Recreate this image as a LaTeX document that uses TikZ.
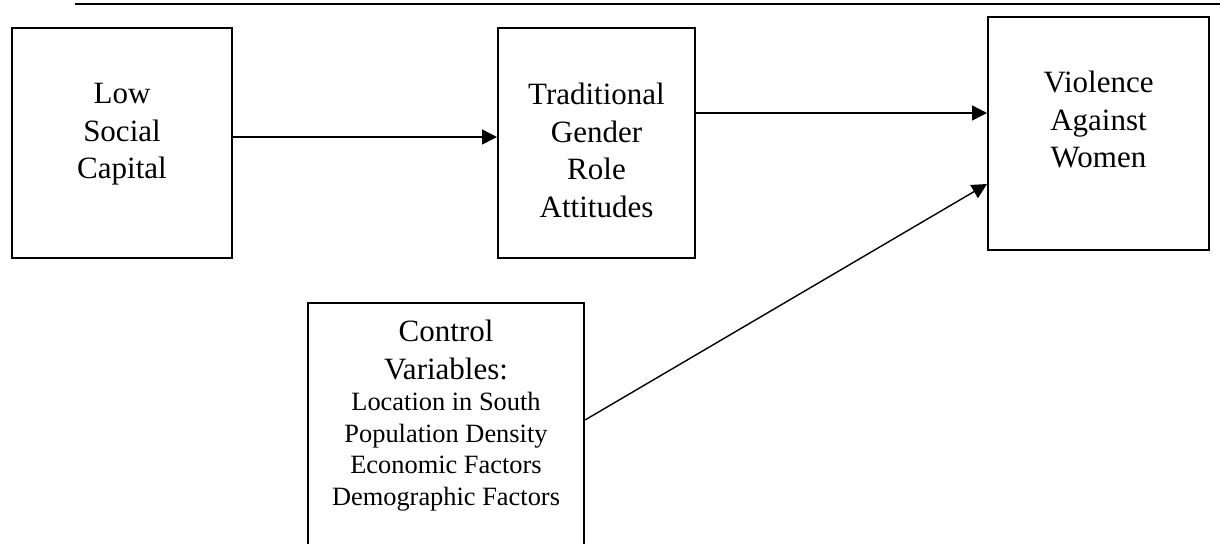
\documentclass[tikz,border=0pt]{standalone}
\usepackage{fontspec}
\setmainfont{Liberation Serif}
\usetikzlibrary{arrows.meta, positioning}
\tikzstyle{arrow} = [line width=0.7pt, -{Triangle[length=7.5pt, width=7.5pt]}]
\newcommand{\ctrlfont}{\fontsize{13.2pt}{15.8pt}\selectfont}

\begin{document}
\begin{tikzpicture}[
      box/.style={rectangle, draw=black, line width=1pt, inner sep=0pt, minimum height=115pt},
      boxtext/.style={align=center, inner sep=0pt, anchor=north, font=\fontsize{15.5pt}{18.75pt}\selectfont},
    ]
    \useasboundingbox (0,0) rectangle (610pt,-271.5pt);

    % Rule at the top
    \draw[line width=1pt] (37.5pt,-2pt) -- (610pt,-2pt);

    % Boxes
    \node[box, minimum width=110pt, anchor=north west] (low) at (5.5pt,-13.5pt) {};
    \node[box, minimum width=98.5pt, right=132pt of low] (trad) {};
    \node[box, minimum width=110.5pt, minimum height=116.5pt, right=145.5pt of trad, yshift=4.75pt] (vaw) {};
    \node[box, minimum width=138pt, minimum height=130pt, below right=21.5pt and 148pt of low.south west] (ctrl) {};

    % Texts
    \node[boxtext, below=28pt of low.north] (lowtxt) {Low\\Social\\Capital};
    \node[boxtext, below=28pt of trad.north] (tradtxt) {Traditional\\Gender\\Role\\Attitudes};
    \node[boxtext, below=27.5pt of vaw.north] (vawtxt) {Violence\\Against\\Women};
    \node[boxtext, below=9pt of ctrl.north] (ctrltxt) {Control\\Variables:\\[-3pt]\ctrlfont Location in South\\[-3pt]\ctrlfont Population Density\\[-3pt]\ctrlfont Economic Factors\\[-3pt]\ctrlfont Demographic Factors};

    % Edges
    \draw[arrow] ([yshift=3pt]low.east) -- ([yshift=3pt]trad.west);
    \draw[arrow] ([yshift=15pt]trad.east) -- ([yshift=10.25pt]vaw.west);
    \draw[arrow] ([yshift=6.5pt]ctrl.east) -- ([yshift=-25.25pt]vaw.west);

  \end{tikzpicture}
\end{document}
